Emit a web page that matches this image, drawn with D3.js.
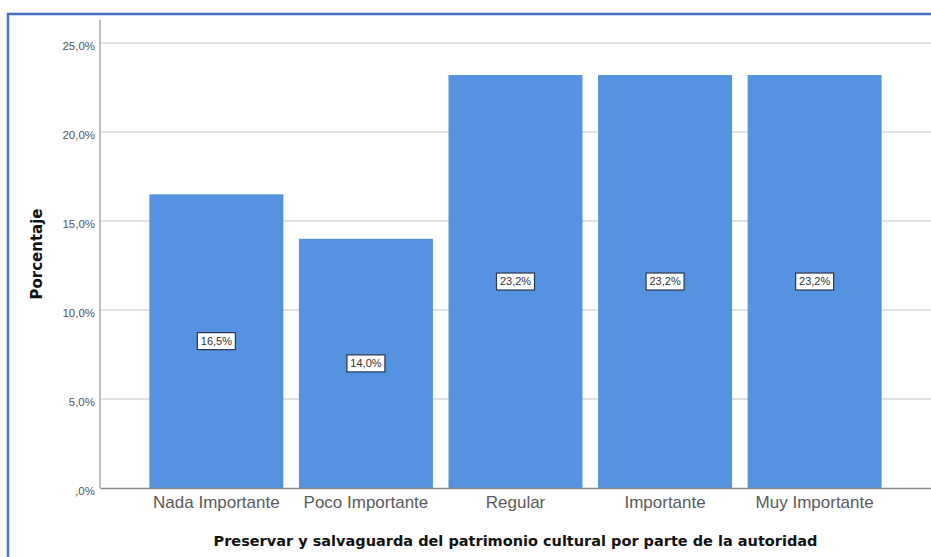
<!DOCTYPE html>
<html><head><meta charset="utf-8">
<script src="https://cdn.jsdelivr.net/npm/d3@7"></script>
<style>body{margin:0;background:#fff}svg{display:block}</style>
</head><body>
<svg id="c" width="931" height="557"></svg>
<script>
const categories = ["Nada Importante","Poco Importante","Regular","Importante","Muy Importante"];
const values = [16.5, 14.0, 23.2, 23.2, 23.2];
const yTicks = [0, 5, 10, 15, 20, 25];
const xTitle = "Preservar y salvaguarda del patrimonio cultural por parte de la autoridad";
const yTitle = "Porcentaje";

(function () {
const fmt = v => (v === 0 ? ",0" : v.toFixed(1).replace(".", ",")) + "%";
const svg = d3.select("#c");
const font = "Liberation Sans, Arial, sans-serif";
const boldFont = "DejaVu Sans, Verdana, sans-serif";

// frame
svg.append("rect").attr("x", 8).attr("y", 14).attr("width", 940).attr("height", 560)
  .attr("fill", "none").attr("stroke", "#4472C4").attr("stroke-width", 2.5);

const pLeft = 100, pRight = 931, pTop = 20;
const y = d3.scaleLinear().domain([0, 25]).range([488, 43]);
const x = d3.scaleBand().domain(categories).range([pLeft, pRight]).paddingInner(0.104).paddingOuter(0.33);

// grid
svg.append("g").selectAll("line").data(yTicks.filter(d => d > 0)).join("line")
  .attr("x1", pLeft).attr("x2", pRight).attr("y1", d => y(d)).attr("y2", d => y(d))
  .attr("stroke", "#d8d8d8").attr("stroke-width", 1.5);

// y axis
const ya = svg.append("g").attr("transform", `translate(${pLeft},0)`)
  .call(d3.axisLeft(y).tickValues(yTicks).tickFormat(fmt).tickSize(0).tickPadding(5));
ya.select(".domain").remove();
ya.selectAll("text").attr("font-family", font).attr("font-size", 11.5).attr("fill", "#555")
  .attr("dy", "0.6em");
svg.append("line").attr("x1", pLeft).attr("x2", pLeft).attr("y1", pTop).attr("y2", 488)
  .attr("stroke", "#a8a8a8").attr("stroke-width", 1.5);

// bars
svg.append("g").selectAll("rect").data(values).join("rect")
  .attr("x", (d, i) => x(categories[i])).attr("width", x.bandwidth())
  .attr("y", d => y(d)).attr("height", d => y(0) - y(d))
  .attr("fill", "#5592e0");

// x axis
const xa = svg.append("g").attr("transform", `translate(0,488)`)
  .call(d3.axisBottom(x).tickSize(0).tickPadding(8));
xa.select(".domain").attr("stroke", "#8a8a8a").attr("stroke-width", 1.5);
xa.selectAll("text").attr("font-family", font).attr("font-size", 17).attr("fill", "#5a5a5a");

// value labels
const lg = svg.append("g").selectAll("g").data(values).join("g")
  .attr("transform", (d, i) => `translate(${x(categories[i]) + x.bandwidth() / 2},${y(d / 2)})`);
lg.append("rect").attr("x", -19).attr("y", -8.5).attr("width", 38).attr("height", 17)
  .attr("fill", "#fff").attr("stroke", "#2a3550").attr("stroke-width", 1.2);
lg.append("text").attr("text-anchor", "middle").attr("dy", "0.35em")
  .attr("font-family", font).attr("font-size", 11).attr("fill", "#333").text(d => fmt(d));

// titles
svg.append("text").attr("x", (pLeft + pRight) / 2).attr("y", 546).attr("text-anchor", "middle")
  .attr("font-family", boldFont).attr("font-weight", "bold").attr("font-size", 14.5).attr("fill", "#111")
  .text(xTitle);
svg.append("text").attr("transform", `translate(42,254) rotate(-90)`).attr("text-anchor", "middle")
  .attr("font-family", boldFont).attr("font-weight", "bold").attr("font-size", 15).attr("fill", "#111")
  .text(yTitle);
})();
</script>
</body></html>
